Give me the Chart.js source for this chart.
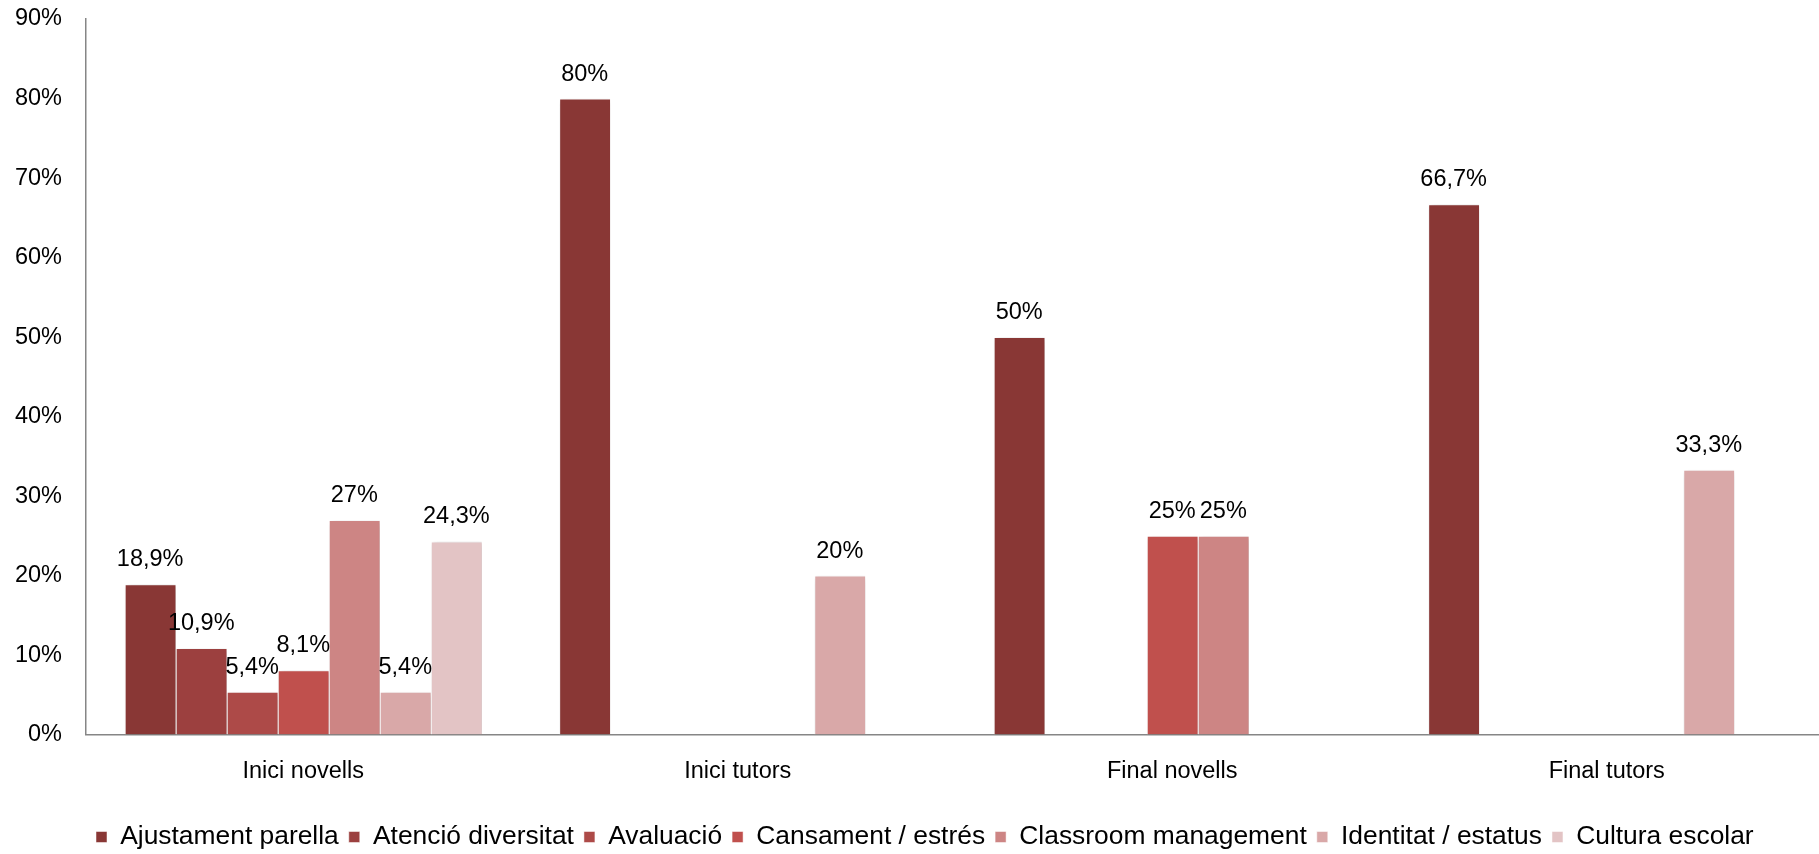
<!DOCTYPE html>
<html>
<head>
<meta charset="utf-8">
<title>Preocupacions per grup</title>
<script src="https://cdn.jsdelivr.net/npm/chart.js@4.4.1/dist/chart.umd.min.js"></script>
<style>
  html, body { margin: 0; padding: 0; background: #fff; overflow: hidden; }
  #wrap { position: relative; width: 1824px; height: 854px; }
</style>
</head>
<body>
<div id="wrap"><canvas id="chart"></canvas></div>
<script>
// Groups on the category axis
const groups = ['Inici novells', 'Inici tutors', 'Final novells', 'Final tutors'];

// One series per theme (percentages, null where the theme does not appear)
const ajustamentParella   = [18.9, 80,   50,   66.7];
const atencioDiversitat   = [10.9, null, null, null];
const avaluacio           = [5.4,  null, null, null];
const cansamentEstres     = [8.1,  null, 25,   null];
const classroomManagement = [27,   null, 25,   null];
const identitatEstatus    = [5.4,  20,   null, 33.3];
const culturaEscolar      = [24.3, null, null, null];

const seriesNames = ['Ajustament parella', 'Atenció diversitat', 'Avaluació',
  'Cansament / estrés', 'Classroom management', 'Identitat / estatus', 'Cultura escolar'];
const seriesValues = [ajustamentParella, atencioDiversitat, avaluacio, cansamentEstres,
  classroomManagement, identitatEstatus, culturaEscolar];
const seriesColors = ['#893735', '#9C403F', '#AD4A48', '#C0504D', '#CD8584', '#D9A8A8', '#E3C4C5'];

// Y axis range and step
const yMin = 0, yMax = 90, yStep = 10;

const FONT = "'Liberation Sans', Arial, sans-serif";

const datasets = seriesNames.map((name, i) => ({
  label: name,
  data: seriesValues[i],
  backgroundColor: seriesColors[i],
  borderColor: '#ffffff',
  borderWidth: { top: 1, left: 1, right: 0, bottom: 0 },
  borderSkipped: false,
  barPercentage: 1,
  categoryPercentage: 0.822
}));

function fmtPct(v) {
  return String(v).replace('.', ',') + '%';
}

// Soft drop shadow under the bars, then the value labels above each bar
const barDecor = {
  id: 'barDecor',
  beforeDatasetsDraw(chart) {
    const ctx = chart.ctx;
    ctx.save();
    ctx.shadowColor = 'rgba(0,0,0,0.28)';
    ctx.shadowBlur = 5;
    ctx.shadowOffsetX = 2;
    ctx.shadowOffsetY = 2;
  },
  afterDatasetsDraw(chart) {
    const ctx = chart.ctx;
    ctx.restore();
    ctx.save();
    ctx.font = '23.5px ' + FONT;
    ctx.fillStyle = '#000';
    ctx.textAlign = 'center';
    ctx.textBaseline = 'alphabetic';
    chart.data.datasets.forEach((ds, di) => {
      const meta = chart.getDatasetMeta(di);
      meta.data.forEach((bar, idx) => {
        const v = ds.data[idx];
        if (v === null || v === undefined) return;
        ctx.fillText(fmtPct(v), bar.x, bar.y - 18);
      });
    });
    ctx.restore();
  }
};

// Place the legend row: first swatch at x=96, text centred on y=837
const legendPlacement = {
  id: 'legendPlacement',
  afterUpdate(chart) {
    const lg = chart.legend;
    if (!lg || !lg.legendHitBoxes || !lg.legendHitBoxes.length) return;
    const dx = 96 - lg.legendHitBoxes[0].left;
    const size = lg.options.labels.font.size;
    const dy = 837 - (lg.top + lg.options.labels.padding + size / 2);
    lg.left += dx; lg.right += dx;
    lg.top += dy; lg.bottom += dy;
  }
};

new Chart(document.getElementById('chart'), {
  type: 'bar',
  data: { labels: groups, datasets },
  plugins: [barDecor, legendPlacement],
  options: {
    responsive: true,
    maintainAspectRatio: false,
    animation: false,
    layout: { padding: { top: 19, right: 0, bottom: 0, left: 0 } },
    plugins: {
      legend: {
        position: 'bottom',
        labels: {
          font: { family: FONT, size: 26.4 },
          color: '#000',
          boxWidth: 11,
          boxHeight: 11,
          padding: 10
        }
      },
      tooltip: { enabled: false }
    },
    scales: {
      x: {
        grid: { display: false, drawTicks: false },
        border: { display: true, color: '#868686', width: 1.5 },
        ticks: { font: { family: FONT, size: 23.5 }, color: '#000', padding: 23 },
        afterFit(scale) {
          scale.height = 73;
          scale.paddingLeft = 0;
          scale.paddingRight = 0;
        }
      },
      y: {
        min: yMin,
        max: yMax,
        grid: { display: false, drawTicks: false },
        border: { display: true, color: '#868686', width: 1.5 },
        ticks: {
          stepSize: yStep,
          font: { family: FONT, size: 23.5 },
          color: '#000',
          padding: 24,
          callback: (v) => v + '%'
        },
        afterFit(scale) {
          scale.width = 86;
          scale.paddingTop = 0;
          scale.paddingBottom = 0;
        }
      }
    }
  }
});
</script>
</body>
</html>
